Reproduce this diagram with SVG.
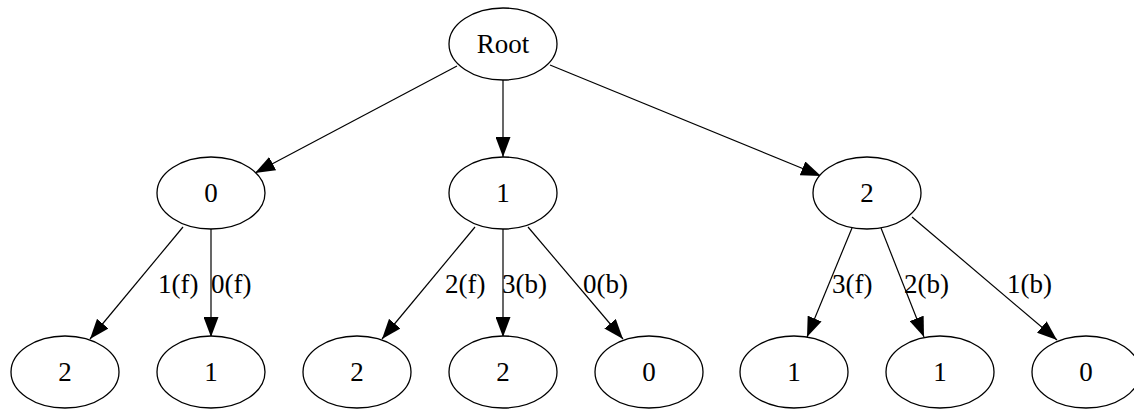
<svg xmlns="http://www.w3.org/2000/svg" width="1134" height="409" viewBox="0 0 1134 409">
<style>
.n{fill:#fff;stroke:#000;stroke-width:1.3}
.t{font-family:"Liberation Serif","Times New Roman",serif;font-size:27px;fill:#000}
.c{text-anchor:middle}
.e{stroke:#000;stroke-width:1.2;fill:none;marker-end:url(#a)}
</style>
<defs>
<marker id="a" viewBox="0 0 20 15" refX="20" refY="7.5" markerWidth="20" markerHeight="15" markerUnits="userSpaceOnUse" orient="auto">
<path d="M0,0 L20,7.5 L0,15 z" fill="#000"/>
</marker>
</defs>
<rect width="1134" height="409" fill="#fff"/>
<g id="edges">
<line class="e" x1="457" y1="66" x2="255" y2="173"/>
<line class="e" x1="503" y1="80" x2="503" y2="157"/>
<line class="e" x1="550" y1="65" x2="821" y2="176"/>
<line class="e" x1="183" y1="227" x2="90" y2="339"/>
<line class="e" x1="211" y1="229" x2="211" y2="337"/>
<line class="e" x1="475" y1="227" x2="382" y2="339"/>
<line class="e" x1="503" y1="229" x2="503" y2="337"/>
<line class="e" x1="528" y1="227" x2="623" y2="339"/>
<line class="e" x1="852" y1="228" x2="807" y2="337"/>
<line class="e" x1="881" y1="228" x2="924" y2="337"/>
<line class="e" x1="912" y1="217" x2="1057" y2="340"/>
<text class="t" x="158" y="293">1(f)</text>
<text class="t" x="211" y="293">0(f)</text>
<text class="t" x="445" y="293">2(f)</text>
<text class="t" x="502" y="293">3(b)</text>
<text class="t" x="583" y="293">0(b)</text>
<text class="t" x="832" y="293">3(f)</text>
<text class="t" x="904" y="293">2(b)</text>
<text class="t" x="1007" y="293">1(b)</text>
</g>
<g id="root"><ellipse class="n" cx="503" cy="44" rx="54" ry="36"/><text class="t c" x="503" y="53">Root</text></g>
<g id="n0"><ellipse class="n" cx="211" cy="193" rx="54" ry="36"/><text class="t c" x="211" y="202">0</text></g>
<g id="n1"><ellipse class="n" cx="503" cy="193" rx="54" ry="36"/><text class="t c" x="503" y="202">1</text></g>
<g id="n2"><ellipse class="n" cx="867" cy="193" rx="54" ry="36"/><text class="t c" x="867" y="202">2</text></g>
<g id="n0_2"><ellipse class="n" cx="65" cy="372" rx="54" ry="36"/><text class="t c" x="65" y="381">2</text></g>
<g id="n0_1"><ellipse class="n" cx="211" cy="372" rx="54" ry="36"/><text class="t c" x="211" y="381">1</text></g>
<g id="n1_2a"><ellipse class="n" cx="357" cy="372" rx="54" ry="36"/><text class="t c" x="357" y="381">2</text></g>
<g id="n1_2b"><ellipse class="n" cx="503" cy="372" rx="54" ry="36"/><text class="t c" x="503" y="381">2</text></g>
<g id="n1_0"><ellipse class="n" cx="649" cy="372" rx="54" ry="36"/><text class="t c" x="649" y="381">0</text></g>
<g id="n2_1a"><ellipse class="n" cx="794" cy="372" rx="54" ry="36"/><text class="t c" x="794" y="381">1</text></g>
<g id="n2_1b"><ellipse class="n" cx="940" cy="372" rx="54" ry="36"/><text class="t c" x="940" y="381">1</text></g>
<g id="n2_0"><ellipse class="n" cx="1086" cy="372" rx="54" ry="36"/><text class="t c" x="1086" y="381">0</text></g>
</svg>
